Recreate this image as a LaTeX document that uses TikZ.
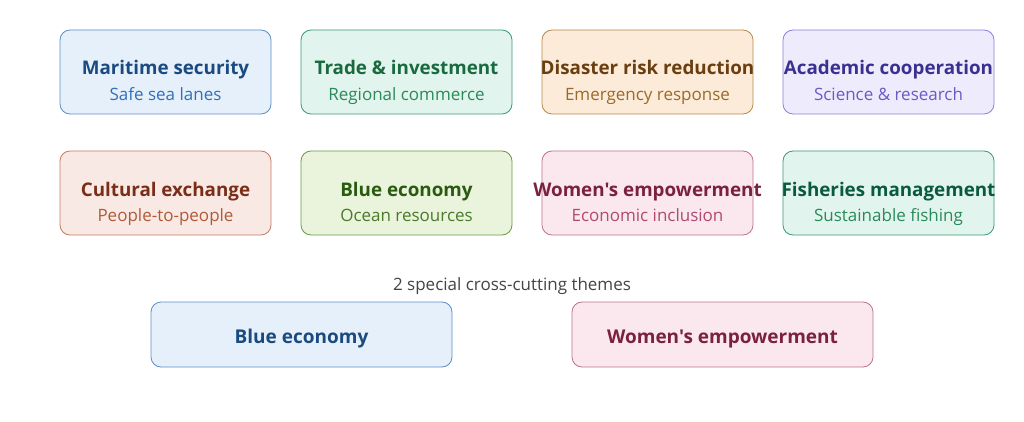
\documentclass[tikz,border=0pt]{standalone}
\usepackage{fontspec}
\setmainfont{Open Sans}[Ligatures=TeXOff]
\begin{document}
\begin{tikzpicture}[x=1pt,y=-1pt,
  ttl/.style={font=\fontsize{18.8}{22}\selectfont\bfseries, inner sep=0pt, anchor=base},
  sub/.style={font=\fontsize{17}{20}\selectfont, inner sep=0pt, anchor=base},
  themelbl/.style={font=\fontsize{19}{22}\selectfont\bfseries, inner sep=0pt, anchor=base},
  captext/.style={font=\fontsize{17}{20}\selectfont, text=capgray, inner sep=0pt, anchor=base}]
\definecolor{capgray}{HTML}{444444}
\definecolor{fA}{HTML}{E6F0FA}\definecolor{bA}{HTML}{5A8FC8}\definecolor{tA}{HTML}{1A4A80}\definecolor{sA}{HTML}{3070B8}
\definecolor{fB}{HTML}{E2F4EE}\definecolor{bB}{HTML}{3A9A70}\definecolor{tB}{HTML}{1A6A40}\definecolor{sB}{HTML}{2A8A5A}
\definecolor{fC}{HTML}{FBEBD8}\definecolor{bC}{HTML}{B8884A}\definecolor{tC}{HTML}{6A3E10}\definecolor{sC}{HTML}{9A6A2A}
\definecolor{fD}{HTML}{EEECFC}\definecolor{bD}{HTML}{8A80D8}\definecolor{tD}{HTML}{3A3090}\definecolor{sD}{HTML}{6A5AC8}
\definecolor{fE}{HTML}{F9E9E4}\definecolor{bE}{HTML}{C87A60}\definecolor{tE}{HTML}{7A2E18}\definecolor{sE}{HTML}{B05A3A}
\definecolor{fF}{HTML}{EAF3DC}\definecolor{bF}{HTML}{6A9A40}\definecolor{tF}{HTML}{2A5A10}\definecolor{sF}{HTML}{4A7A2A}
\definecolor{fG}{HTML}{FBE8EE}\definecolor{bG}{HTML}{C07090}\definecolor{tG}{HTML}{7A2040}\definecolor{sG}{HTML}{B04A70}
\definecolor{fH}{HTML}{E2F4EE}\definecolor{bH}{HTML}{3A9A70}\definecolor{tH}{HTML}{0A5A40}\definecolor{sH}{HTML}{2A8A5A}
\useasboundingbox (0,0) rectangle (1024,422);
\fill[white] (0,0) rectangle (1024,422);
\tikzset{box/.style={draw=b#1, fill=f#1, rounded corners=10pt, line width=0.8pt}}
% row 1
\draw[box=A] (60,30) rectangle (271,114);
\draw[box=B] (301,30) rectangle (512,114);
\draw[box=C] (542,30) rectangle (753,114);
\draw[box=D] (783,30) rectangle (994,114);
% row 2
\draw[box=E] (60,151) rectangle (271,235);
\draw[box=F] (301,151) rectangle (512,235);
\draw[box=G] (542,151) rectangle (753,235);
\draw[box=H] (783,151) rectangle (994,235);
% row 3
\draw[box=A] (151,302) rectangle (452,367);
\draw[box=G] (572,302) rectangle (873,367);
% texts
\node[ttl,text=tA] (t1) at (165.5,75) {Maritime security};
\node[sub,text=sA] (s1) at (165.5,100.5) {Safe sea lanes};
\node[ttl,text=tB] (t2) at (406.5,75) {Trade \& investment};
\node[sub,text=sB] (s2) at (406.5,100.5) {Regional commerce};
\node[ttl,text=tC] (t3) at (647.5,75) {Disaster risk reduction};
\node[sub,text=sC] (s3) at (647.5,100.5) {Emergency response};
\node[ttl,text=tD] (t4) at (888.5,75) {Academic cooperation};
\node[sub,text=sD] (s4) at (888.5,100.5) {Science \& research};
\node[ttl,text=tE] (t5) at (165.5,196) {Cultural exchange};
\node[sub,text=sE] (s5) at (165.5,221.5) {People-to-people};
\node[ttl,text=tF] (t6) at (406.5,196) {Blue economy};
\node[sub,text=sF] (s6) at (406.5,221.5) {Ocean resources};
\node[ttl,text=tG] (t7) at (647.5,196) {Women's empowerment};
\node[sub,text=sG] (s7) at (647.5,221.5) {Economic inclusion};
\node[ttl,text=tH] (t8) at (888.5,196) {Fisheries management};
\node[sub,text=sH] (s8) at (888.5,221.5) {Sustainable fishing};
\node[captext] (capn) at (512,290.5) {2 special cross-cutting themes};
\node[themelbl,text=tA] (b1) at (301.5,343) {Blue economy};
\node[themelbl,text=tG] (b2) at (722.5,343) {Women's empowerment};
\end{tikzpicture}
\end{document}
